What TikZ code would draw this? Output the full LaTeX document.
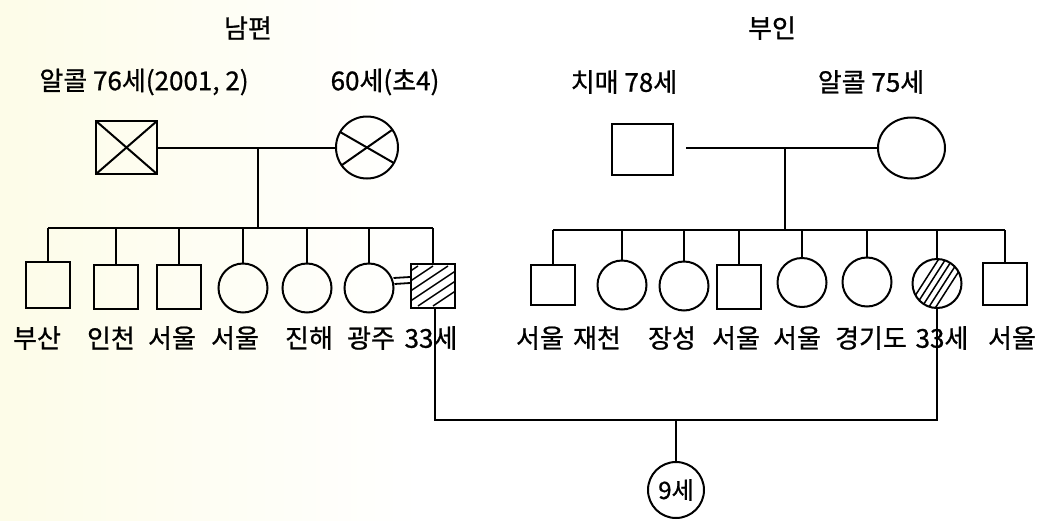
\documentclass[tikz,border=0pt]{standalone}
\usepackage{fontspec}
\setmainfont[FakeBold=0.8]{Noto Sans CJK KR}
\usetikzlibrary{calc,shapes.geometric}
\definecolor{cream}{RGB}{253,252,232}
\tikzset{
  lw/.style={line width=2pt},
  male/.style={draw, lw, rectangle, inner sep=0pt, minimum width=44pt, minimum height=44pt},
  female/.style={draw, lw, circle, inner sep=0pt, minimum size=49pt},
  lbl/.style={font=\fontsize{26}{28}\selectfont, inner sep=0pt},
  conn/.style={lw},
  crossbox/.style={path picture={
     \draw[lw] (path picture bounding box.north west) -- (path picture bounding box.south east);
     \draw[lw] (path picture bounding box.south west) -- (path picture bounding box.north east);}},
  crosscirc/.style={path picture={
     \draw[lw] ($(path picture bounding box.center)+(150:31pt)$) -- ($(path picture bounding box.center)+(-30:31pt)$);
     \draw[lw] ($(path picture bounding box.center)+(215:31pt)$) -- ($(path picture bounding box.center)+(35:31pt)$);}},
  hatchbox/.style={path picture={
     \foreach \k in {-3,...,2}{
       \draw[line width=1.5pt] ($(path picture bounding box.center)+(\k*15-30,20)$) -- ($(path picture bounding box.center)+(\k*15+30,-20)$);}}},
  hatchcirc/.style={path picture={
     \foreach \k in {-2,...,2}{
       \draw[line width=1.5pt] ($(path picture bounding box.center)+(\k*7-18,28)$) -- ($(path picture bounding box.center)+(\k*7+18,-28)$);}}}
}
\begin{document}
\begin{tikzpicture}[x=1pt,y=-1pt]
\useasboundingbox (0,0) rectangle (1053,520);
\fill[white] (0,0) rectangle (1053,520);
\shade[left color=cream, right color=white] (0,0) rectangle (420,520);

% titles
\node[lbl] (t1) at (248,28) {남편};
\node[lbl] (t2) at (772,28) {부인};
\node[lbl] (a1) at (144,82) {알콜 76세(2001, 2)};
\node[lbl] (a2) at (385,82) {60세(초4)};
\node[lbl] (a3) at (624,82) {치매 78세};
\node[lbl] (a4) at (871,82) {알콜 75세};

% husband's parents
\node[male, crossbox, minimum width=61pt, minimum height=53pt] (hf) at (126.5,147.5) {};
\node[female, crosscirc, minimum size=62pt] (hm) at (367,147.5) {};
\draw[conn] (hf.east) -- (hm.west);
\coordinate (hc) at (258,228);
\draw[conn] (hc |- hf.east) -- (hc);

% husband's siblings
\node[male, minimum height=46pt] (h1) at (48,285) {};
\node[male] (h2) at (116,286.5) {};
\node[male] (h3) at (179,286.5) {};
\node[female] (h4) at (243,288) {};
\node[female] (h5) at (307,288) {};
\node[female] (h6) at (369,288) {};
\node[male, hatchbox] (h7) at (433,286) {};
\draw[conn] (h1.north |- hc) -- (h7.north |- hc);
\foreach \n in {h1,h2,h3,h4,h5,h6,h7}{\draw[conn] (\n.north) -- (\n.north |- hc);}
\draw[line width=1.8pt] ($(h6.east)+(-1,-10)$) -- ($(h7.west)+(0,-9)$);
\draw[line width=1.8pt] ($(h6.east)+(0,-4)$) -- ($(h7.west)+(0,-3)$);

\node[lbl] (l1) at (37,338) {부산};
\node[lbl] (l2) at (111,338) {인천};
\node[lbl] (l3) at (172,338) {서울};
\node[lbl] (l4) at (235,338) {서울};
\node[lbl] (l5) at (309,338) {진해};
\node[lbl] (l6) at (371,338) {광주};
\node[lbl] (l7) at (431,338) {33세};

% wife's parents
\node[male, minimum width=61pt, minimum height=51pt] (wf) at (642.5,149.5) {};
\node[draw, lw, ellipse, inner sep=0pt, minimum width=67pt, minimum height=61pt] (wm) at (911.5,148) {};
\coordinate (wg) at ($(wf.east)+(12,0)$);
\draw[conn] (wg |- wm.west) -- (wm.west);
\coordinate (wc) at (785,230);
\draw[conn] (wc |- wm.west) -- (wc);

% wife's siblings
\node[male, minimum height=40pt] (w1) at (553,285) {};
\node[female] (w2) at (622,285) {};
\node[female] (w3) at (684,286) {};
\node[male] (w4) at (739,287) {};
\node[female] (w5) at (802,282.5) {};
\node[female] (w6) at (867,282) {};
\node[female, hatchcirc] (w7) at (937,283.5) {};
\node[male, minimum height=42pt] (w8) at (1005,284) {};
\draw[conn] (w1.north |- wc) -- (w8.north |- wc);
\foreach \n in {w1,w2,w3,w4,w5,w6,w7,w8}{\draw[conn] (\n.north) -- (\n.north |- wc);}

\node[lbl] (m1) at (540,338) {서울};
\node[lbl] (m2) at (597,338) {재천};
\node[lbl] (m3) at (672,338) {장성};
\node[lbl] (m4) at (736,338) {서울};
\node[lbl] (m5) at (797,338) {서울};
\node[lbl] (m6) at (871,338) {경기도};
\node[lbl] (m7) at (942,338) {33세};
\node[lbl] (m8) at (1012,338) {서울};

% couple and child
\coordinate (cl) at (435,420);
\draw[conn] ([xshift=2pt]h7.south) -- ([xshift=2pt]h7.south |- cl) -- (w7.south |- cl) -- (w7.south);
\node[female, minimum size=56pt, font=\fontsize{24}{26}\selectfont] (ch) at (676,490) {9세};
\draw[conn] (ch.north) -- (ch.north |- cl);
\end{tikzpicture}
\end{document}
